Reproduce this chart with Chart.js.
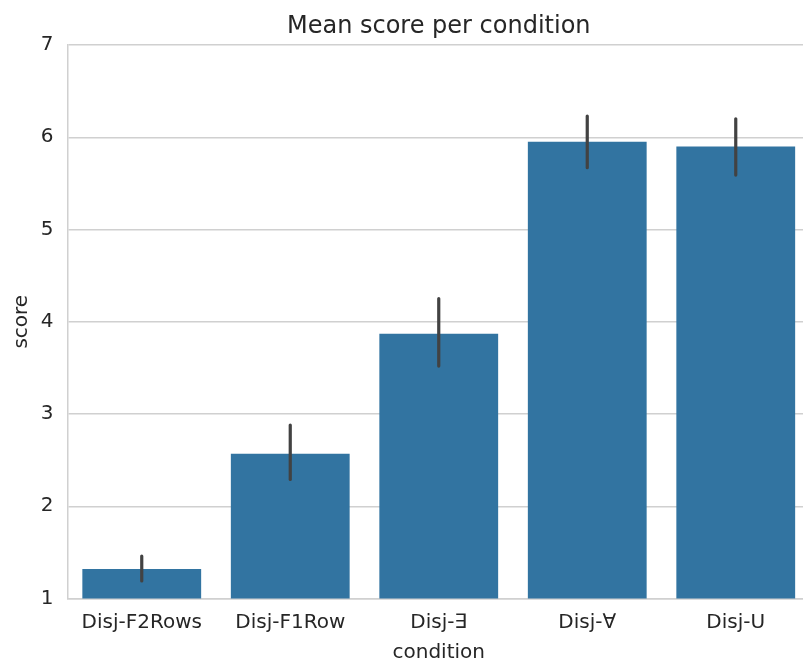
<!DOCTYPE html>
<html>
<head>
<meta charset="utf-8">
<script src="https://cdn.jsdelivr.net/npm/chart.js@4/dist/chart.umd.min.js"></script>
<style>
  html, body { margin: 0; padding: 0; background: #ffffff; overflow: hidden; }
  #wrap { width: 803px; height: 667px; overflow: hidden; }
</style>
</head>
<body>
<div id="wrap"><canvas id="c" width="810" height="667"></canvas></div>
<script>
// Mean score per condition, with 95% confidence intervals
const conditions = ['Disj-F2Rows', 'Disj-F1Row', 'Disj-∃', 'Disj-∀', 'Disj-U'];
const meanScore  = [1.32, 2.57, 3.87, 5.95, 5.90];
const ciLow      = [1.19, 2.29, 3.52, 5.67, 5.59];
const ciHigh     = [1.46, 2.88, 4.25, 6.23, 6.20];
const yTicks     = [1, 2, 3, 4, 5, 6, 7];

const TEXT = '#262626';
const GRID = '#d0d0d0';
const FONT = 'DejaVu Sans';

// Vertical error bars drawn through the chart's own scales
const errorBars = {
  id: 'errorBars',
  afterDatasetsDraw(chart) {
    const { ctx, scales: { x, y } } = chart;
    ctx.save();
    ctx.strokeStyle = '#424242';
    ctx.lineWidth = 3.2;
    ctx.lineCap = 'round';
    conditions.forEach((c, i) => {
      const px = x.getPixelForValue(i);
      ctx.beginPath();
      ctx.moveTo(px, y.getPixelForValue(ciLow[i]));
      ctx.lineTo(px, y.getPixelForValue(ciHigh[i]));
      ctx.stroke();
    });
    ctx.restore();
  }
};

// Title centred over the plotting area
const plotTitle = {
  id: 'plotTitle',
  afterDraw(chart) {
    const { ctx, chartArea: a } = chart;
    ctx.save();
    ctx.fillStyle = TEXT;
    ctx.font = '24px "' + FONT + '"';
    ctx.textAlign = 'center';
    ctx.textBaseline = 'alphabetic';
    ctx.fillText('Mean score per condition', (a.left + a.right) / 2, 33);
    ctx.restore();
  }
};

new Chart(document.getElementById('c'), {
  type: 'bar',
  data: {
    labels: conditions,
    datasets: [{
      data: meanScore,
      backgroundColor: '#3274a1',
      borderWidth: 0,
      barPercentage: 0.8,
      categoryPercentage: 1.0
    }]
  },
  options: {
    responsive: false,
    animation: false,
    devicePixelRatio: 1,
    layout: { padding: { top: 45, right: 0, bottom: 0, left: 0 } },
    plugins: { legend: { display: false }, title: { display: false }, tooltip: { enabled: false } },
    scales: {
      x: {
        grid: { display: false, drawTicks: false },
        border: { color: GRID, width: 1.5 },
        ticks: { color: TEXT, font: { family: FONT, size: 20 }, padding: 12, maxRotation: 0 },
        title: { display: true, text: 'condition', color: TEXT, font: { family: FONT, size: 20 }, padding: { top: 0, bottom: 2 } },
        afterFit(scale) { scale.height = 68.5; }
      },
      y: {
        min: 1,
        max: 7,
        afterBuildTicks(scale) { scale.ticks = yTicks.map(v => ({ value: v })); },
        grid: { color: GRID, lineWidth: 1.5, drawTicks: false },
        border: { color: GRID, width: 1.5 },
        ticks: { color: TEXT, font: { family: FONT, size: 20 }, padding: 14 },
        title: { display: true, text: 'score', color: TEXT, font: { family: FONT, size: 20 }, padding: { top: 10, bottom: 0 } },
        afterFit(scale) { scale.width = 67.5; }
      }
    }
  },
  plugins: [plotTitle, errorBars]
});
</script>
</body>
</html>
